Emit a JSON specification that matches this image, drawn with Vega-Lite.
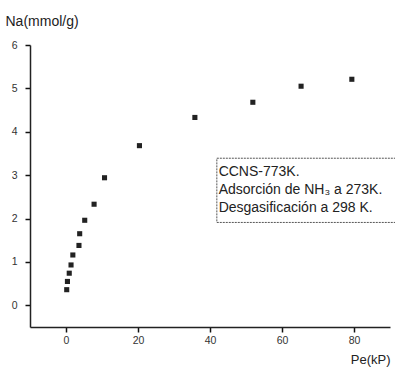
{
  "$schema": "https://vega.github.io/schema/vega-lite/v6.json",
  "width": 360,
  "height": 282,
  "autosize": {"type": "none"},
  "padding": {"left": 30, "top": 45, "right": 5, "bottom": 40},
  "background": "white",
  "config": {
    "view": {"stroke": null},
    "font": "Liberation Sans",
    "axis": {
      "grid": false,
      "ticks": true,
      "tickOpacity": 1,
      "domainColor": "#222",
      "domainWidth": 1.5,
      "tickColor": "#111",
      "tickWidth": 1.5,
      "tickSize": 5,
      "labelFontSize": 10.5,
      "labelColor": "#333",
      "titleFontWeight": "normal",
      "titleColor": "#222"
    }
  },
  "data": {
    "values": [
      {"p": 0.2, "na": 0.36},
      {"p": 0.4, "na": 0.55},
      {"p": 0.9, "na": 0.74},
      {"p": 1.4, "na": 0.93},
      {"p": 1.9, "na": 1.16},
      {"p": 3.6, "na": 1.38},
      {"p": 3.8, "na": 1.65},
      {"p": 5.2, "na": 1.96},
      {"p": 7.8, "na": 2.33},
      {"p": 10.7, "na": 2.94},
      {"p": 20.4, "na": 3.68},
      {"p": 35.8, "na": 4.33},
      {"p": 51.9, "na": 4.68},
      {"p": 65.3, "na": 5.05},
      {"p": 79.4, "na": 5.21}
    ]
  },
  "layer": [
    {
      "mark": {"type": "point", "shape": "square", "filled": true, "size": 26, "color": "#222", "opacity": 1},
      "encoding": {
        "x": {
          "field": "p", "type": "quantitative",
          "scale": {"domain": [-10, 90], "nice": false, "zero": false},
          "axis": {
            "values": [0, 20, 40, 60, 80],
            "title": "Pe(kP)",
            "titleFontSize": 13,
            "titleAlign": "right",
            "titleAnchor": "end",
            "titleX": 360,
            "titleY": 36,
            "titleBaseline": "alphabetic",
            "labelPadding": 3
          }
        },
        "y": {
          "field": "na", "type": "quantitative",
          "scale": {"domain": [-0.5, 6], "nice": false, "zero": false},
          "axis": {
            "values": [0, 1, 2, 3, 4, 5, 6],
            "title": "Na(mmol/g)",
            "titleFontSize": 14,
            "titleAngle": 0,
            "titleAlign": "left",
            "titleX": -25,
            "titleY": -20,
            "titleBaseline": "alphabetic",
            "labelPadding": 8
          }
        }
      }
    },
    {
      "data": {"values": [{}]},
      "mark": {"type": "rect", "fill": "white", "fillOpacity": 0, "stroke": "#555", "strokeWidth": 1, "strokeDash": [2, 1]},
      "encoding": {
        "x": {"datum": 41.9, "type": "quantitative"},
        "x2": {"datum": 92},
        "y": {"datum": 3.39, "type": "quantitative"},
        "y2": {"datum": 1.91}
      }
    },
    {
      "data": {"values": [{}]},
      "mark": {"type": "text", "align": "left", "baseline": "middle", "fontSize": 14, "lineHeight": 18, "color": "#222", "font": "Liberation Sans"},
      "encoding": {
        "x": {"datum": 42.4, "type": "quantitative"},
        "y": {"datum": 3.08, "type": "quantitative"},
        "text": {"value": ["CCNS-773K.", "Adsorción de NH₃ a 273K.", "Desgasificación a 298 K."]}
      }
    }
  ]
}
